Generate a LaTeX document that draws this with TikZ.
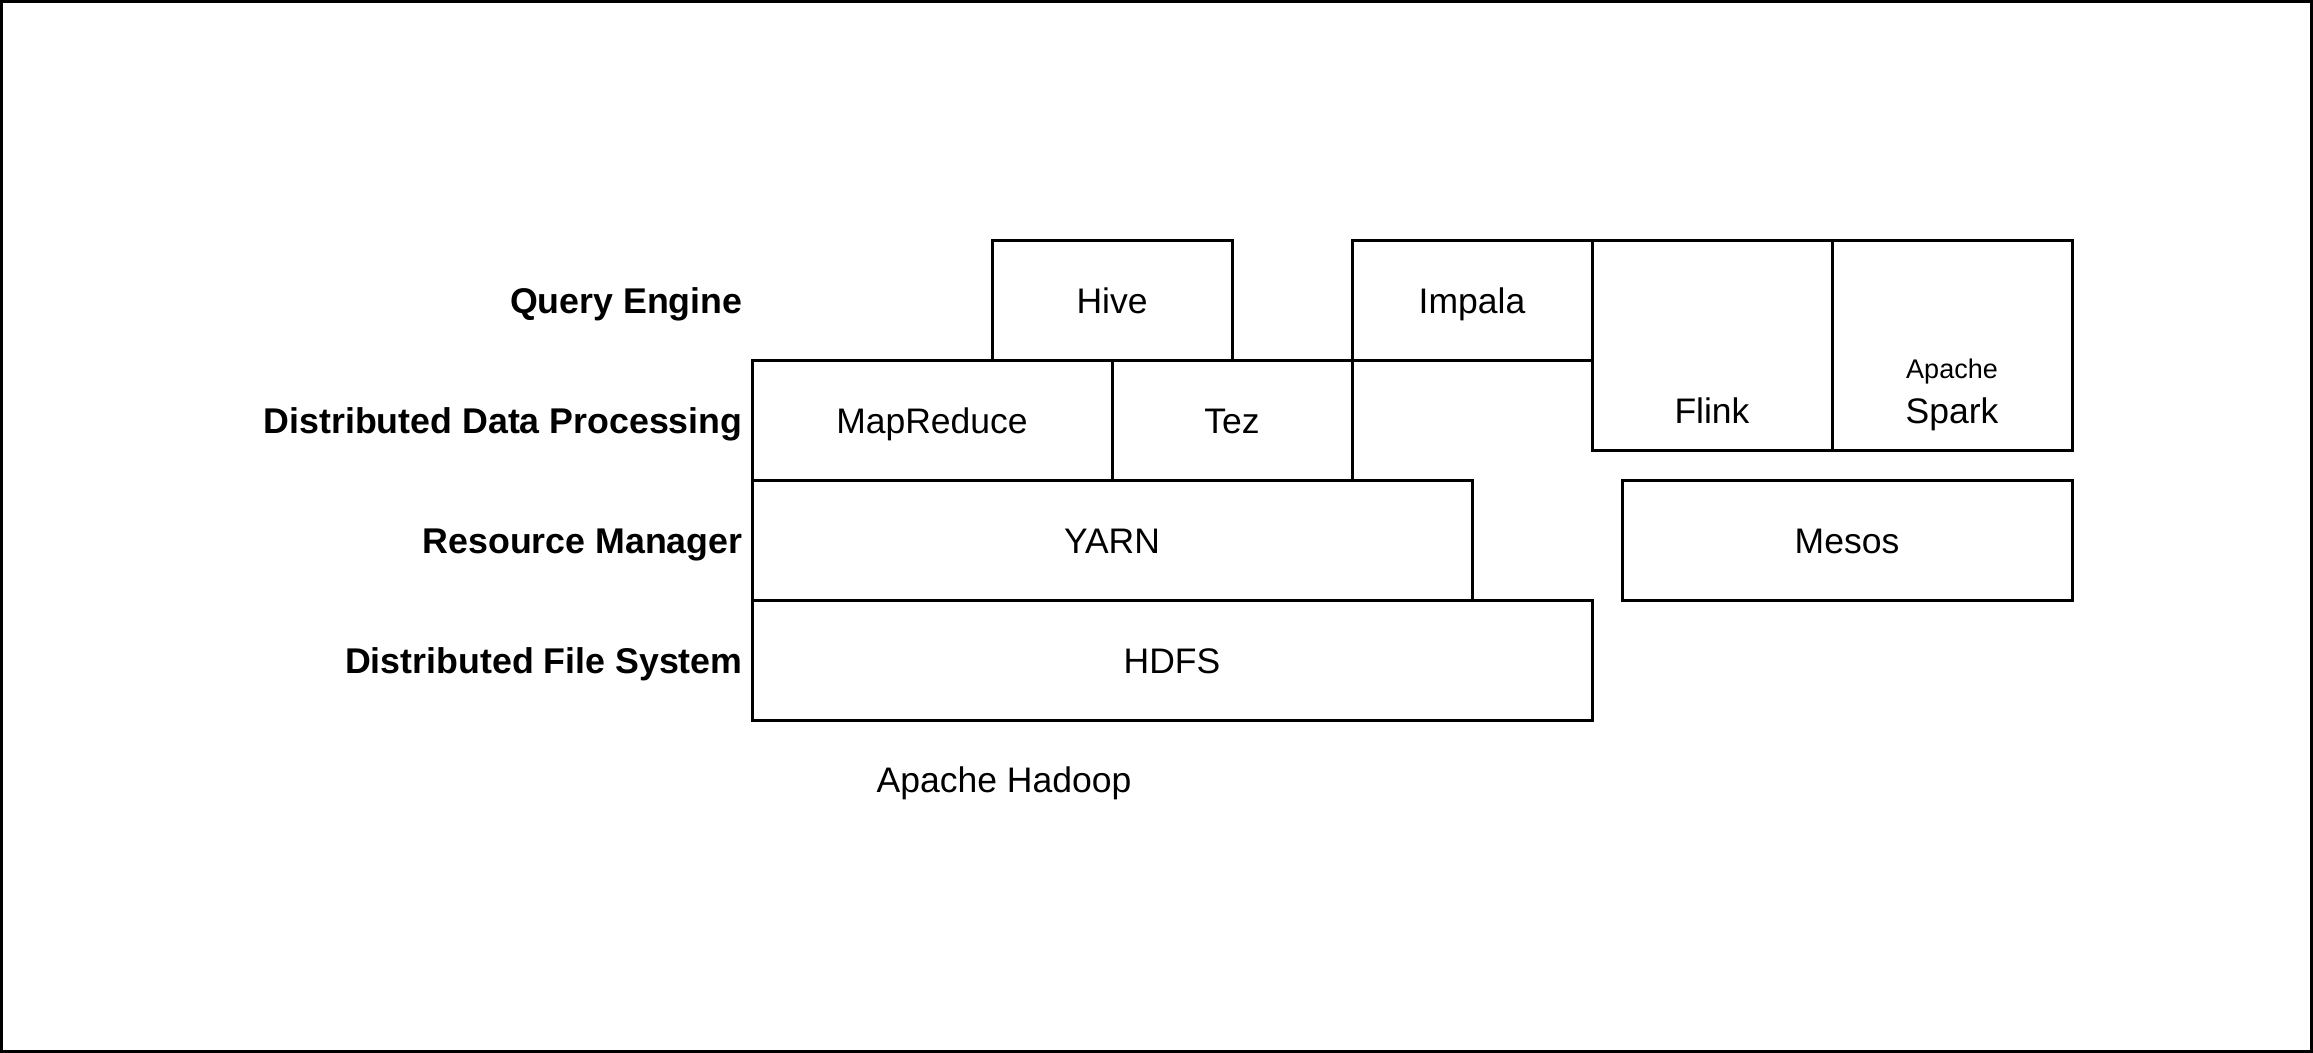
\documentclass[tikz,border=0pt]{standalone}
\usepackage{fontspec}
\setmainfont{Liberation Sans}
\begin{document}
\begin{tikzpicture}[x=0.4pt,y=-0.4pt,
  blk/.style={draw=black,line width=1.2pt,rectangle,inner sep=0pt,outer sep=0pt,anchor=north west},
  txt/.style={font=\fontsize{14.2}{17}\selectfont,anchor=base,inner sep=0pt},
  rowlab/.style={font=\fontsize{14.3}{17}\selectfont\bfseries,anchor=base east,inner sep=0pt},
  small/.style={font=\fontsize{10.8}{13}\selectfont,anchor=base,inner sep=0pt}]
\useasboundingbox (0,0) rectangle (2313,1053);
\draw[line width=1.2pt] (1.5,1.5) rectangle (2311.5,1051.5);
% boxes
\node[blk,minimum width=240pt*0.4,minimum height=120pt*0.4] (hive) at (992,240) {};
\node[blk,minimum width=240pt*0.4,minimum height=120pt*0.4] (impala) at (1352,240) {};
\node[blk,minimum width=240pt*0.4,minimum height=210pt*0.4] (flink) at (1592,240) {};
\node[blk,minimum width=240pt*0.4,minimum height=210pt*0.4] (spark) at (1832,240) {};
\node[blk,minimum width=360pt*0.4,minimum height=120pt*0.4] (mapreduce) at (752,360) {};
\node[blk,minimum width=240pt*0.4,minimum height=120pt*0.4] (tez) at (1112,360) {};
\node[blk,minimum width=720pt*0.4,minimum height=120pt*0.4] (yarn) at (752,480) {};
\node[blk,minimum width=450pt*0.4,minimum height=120pt*0.4] (mesos) at (1622,480) {};
\node[blk,minimum width=840pt*0.4,minimum height=120pt*0.4] (hdfs) at (752,600) {};
% box texts
\node[txt] (hivet) at (1112,313) {Hive};
\node[txt] (impalat) at (1472,313) {Impala};
\node[txt] (mapreducet) at (932,433) {MapReduce};
\node[txt] (tezt) at (1232,433) {Tez};
\node[txt] (yarnt) at (1112,553) {YARN};
\node[txt] (mesost) at (1847,553) {Mesos};
\node[txt] (hdfst) at (1172,673) {HDFS};
\node[txt] (flinkt) at (1712,423) {Flink};
\node[small] (apachet) at (1952,378) {Apache};
\node[txt] (sparkt) at (1952,423) {Spark};
% row labels
\node[rowlab] (l1) at (743,313) {Query Engine};
\node[rowlab] (l2) at (743,433) {Distributed Data Processing};
\node[rowlab] (l3) at (743,553) {Resource Manager};
\node[rowlab] (l4) at (743,673) {Distributed File System};
\node[txt] (hadoop) at (1004,792) {Apache Hadoop};
\end{tikzpicture}
\end{document}
